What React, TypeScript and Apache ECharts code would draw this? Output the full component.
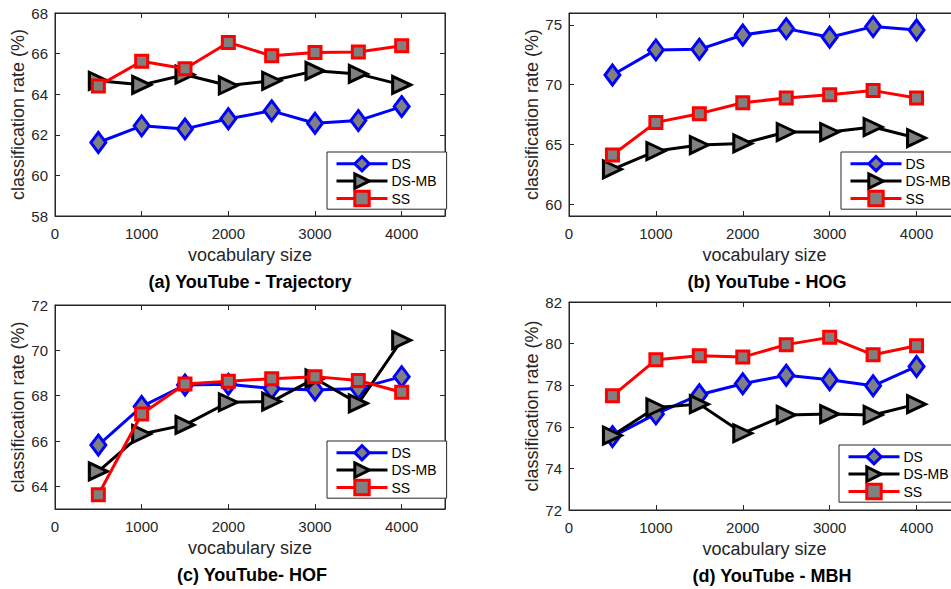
import React, { useEffect, useRef } from "react";
import * as echarts from "echarts";

const VOCAB = [500, 1000, 1500, 2000, 2500, 3000, 3500, 4000];
const X_TICKS = [0, 1000, 2000, 3000, 4000];

const TRAJ_DS = [61.62, 62.44, 62.29, 62.79, 63.18, 62.57, 62.7, 63.39];
const TRAJ_DSMB = [64.66, 64.46, 64.96, 64.43, 64.66, 65.15, 65.0, 64.46];
const TRAJ_SS = [64.41, 65.62, 65.25, 66.55, 65.89, 66.06, 66.08, 66.39];
const TRAJ_Y_TICKS = [58, 60, 62, 64, 66, 68];

const HOG_DS = [70.81, 72.91, 72.96, 74.16, 74.69, 73.97, 74.86, 74.58];
const HOG_DSMB = [62.91, 64.44, 64.94, 65.08, 66.03, 66.03, 66.45, 65.53];
const HOG_SS = [64.11, 66.84, 67.57, 68.49, 68.88, 69.16, 69.5, 68.88];
const HOG_Y_TICKS = [60, 65, 70, 75];

const HOF_DS = [65.82, 67.52, 68.47, 68.5, 68.32, 68.25, 68.32, 68.84];
const HOF_DSMB = [64.66, 66.31, 66.71, 67.71, 67.74, 68.76, 67.66, 70.45];
const HOF_SS = [63.63, 67.19, 68.51, 68.64, 68.75, 68.84, 68.67, 68.15];
const HOF_Y_TICKS = [64, 66, 68, 70, 72];

const MBH_DS = [75.53, 76.62, 77.54, 78.07, 78.48, 78.26, 77.97, 78.9];
const MBH_DSMB = [75.58, 76.93, 77.09, 75.69, 76.57, 76.61, 76.57, 77.09];
const MBH_SS = [77.49, 79.22, 79.42, 79.35, 79.95, 80.3, 79.46, 79.9];
const MBH_Y_TICKS = [72, 74, 76, 78, 80, 82];

const SERIES_NAMES = ["DS", "DS-MB", "SS"];
const TITLES = [
  "(a) YouTube - Trajectory",
  "(b) YouTube - HOG",
  "(c) YouTube- HOF",
  "(d) YouTube - MBH",
];

const FONT = "'Liberation Sans', Arial, Helvetica, sans-serif";
const AXIS_COLOR = "#262626";
const FILL = "#808080";

const panels = [
  {
    grid: { left: 55, top: 13, width: 390, height: 203 },
    yMin: 58, yMax: 68, yTicks: TRAJ_Y_TICKS,
    data: [TRAJ_DS, TRAJ_DSMB, TRAJ_SS],
    legend: { left: 327, top: 152 },
    title: { x: 250, y: 282 },
  },
  {
    grid: { left: 569, top: 13, width: 391, height: 203 },
    yMin: 59, yMax: 76, yTicks: HOG_Y_TICKS,
    data: [HOG_DS, HOG_DSMB, HOG_SS],
    legend: { left: 841, top: 152 },
    title: { x: 767, y: 282 },
  },
  {
    grid: { left: 55, top: 305, width: 390, height: 204 },
    yMin: 63, yMax: 72, yTicks: HOF_Y_TICKS,
    data: [HOF_DS, HOF_DSMB, HOF_SS],
    legend: { left: 327, top: 441 },
    title: { x: 252, y: 575 },
  },
  {
    grid: { left: 569, top: 302, width: 391, height: 208 },
    yMin: 72, yMax: 82, yTicks: MBH_Y_TICKS,
    data: [MBH_DS, MBH_DSMB, MBH_SS],
    legend: { left: 839, top: 445 },
    title: { x: 772, y: 576 },
  },
];

const seriesStyles = [
  { color: "#0000ff", symbol: "diamond", symbolSize: [15, 20], symbolRotate: 0 },
  { color: "#000000", symbol: "triangle", symbolSize: [17, 18], symbolRotate: -90 },
  { color: "#ff0000", symbol: "rect", symbolSize: [12, 12], symbolRotate: 0 },
];

function buildOption() {
  const grids: any[] = [];
  const xAxes: any[] = [];
  const yAxes: any[] = [];
  const series: any[] = [];
  const legends: any[] = [];
  const graphics: any[] = [];

  panels.forEach((p, i) => {
    grids.push({
      ...p.grid,
      show: true,
      borderColor: AXIS_COLOR,
      borderWidth: 1,
      backgroundColor: "#ffffff",
      containLabel: false,
    });
    const tickCommon = { inside: true, length: 5, lineStyle: { color: AXIS_COLOR, width: 1 } };
    xAxes.push({
      type: "value",
      gridIndex: i,
      position: "bottom",
      min: 0,
      max: 4500,
      name: "vocabulary size",
      nameLocation: "middle",
      nameGap: 30,
      nameTextStyle: { fontSize: 18, color: AXIS_COLOR, fontFamily: FONT },
      axisLine: { show: true, onZero: false, lineStyle: { color: AXIS_COLOR, width: 1 } },
      axisTick: { ...tickCommon, customValues: X_TICKS },
      axisLabel: {
        customValues: X_TICKS,
        formatter: (v: number) => String(v),
        fontSize: 15,
        color: AXIS_COLOR,
        fontFamily: FONT,
        margin: 10,
      },
      splitLine: { show: false },
    });
    xAxes.push({
      type: "value",
      gridIndex: i,
      position: "top",
      min: 0,
      max: 4500,
      axisLine: { show: true, onZero: false, lineStyle: { color: AXIS_COLOR, width: 1 } },
      axisTick: { ...tickCommon, customValues: X_TICKS },
      axisLabel: { show: false },
      splitLine: { show: false },
    });
    yAxes.push({
      type: "value",
      gridIndex: i,
      position: "left",
      min: p.yMin,
      max: p.yMax,
      name: "classification rate (%)",
      nameLocation: "middle",
      nameGap: 28,
      nameTextStyle: { fontSize: 18, color: AXIS_COLOR, fontFamily: FONT },
      axisLine: { show: true, onZero: false, lineStyle: { color: AXIS_COLOR, width: 1 } },
      axisTick: { ...tickCommon, customValues: p.yTicks },
      axisLabel: {
        customValues: p.yTicks,
        formatter: (v: number) => String(v),
        fontSize: 15,
        color: AXIS_COLOR,
        fontFamily: FONT,
        margin: 7,
      },
      splitLine: { show: false },
    });
    yAxes.push({
      type: "value",
      gridIndex: i,
      position: "right",
      min: p.yMin,
      max: p.yMax,
      axisLine: { show: true, onZero: false, lineStyle: { color: AXIS_COLOR, width: 1 } },
      axisTick: { ...tickCommon, customValues: p.yTicks },
      axisLabel: { show: false },
      splitLine: { show: false },
    });

    p.data.forEach((vals, k) => {
      const st = seriesStyles[k];
      series.push({
        type: "line",
        name: SERIES_NAMES[k],
        xAxisIndex: 2 * i,
        yAxisIndex: 2 * i,
        data: VOCAB.map((x, j) => [x, vals[j]]),
        symbol: st.symbol,
        symbolSize: st.symbolSize,
        symbolRotate: st.symbolRotate,
        showAllSymbol: true,
        lineStyle: { color: st.color, width: 3 },
        itemStyle: { color: FILL, borderColor: st.color, borderWidth: 3 },
        emphasis: { disabled: true },
        z: 2 + k,
      });
    });

    legends.push({
      orient: "vertical",
      left: p.legend.left,
      top: p.legend.top,
      data: SERIES_NAMES,
      itemWidth: 51,
      itemHeight: 18,
      itemGap: 0,
      padding: [3, 10, 2, 8],
      borderColor: AXIS_COLOR,
      borderWidth: 1,
      borderRadius: 0,
      backgroundColor: "#ffffff",
      lineStyle: { width: 3 },
      itemStyle: { borderWidth: 3 },
      textStyle: { fontSize: 14, color: "#000000", fontFamily: FONT, padding: [0, 0, 0, -1] },
      selectedMode: false,
      z: 10,
    });

    graphics.push({
      type: "text",
      x: p.title.x,
      y: p.title.y,
      style: {
        text: TITLES[i],
        fontSize: 18,
        fontWeight: "bold",
        fill: "#000000",
        fontFamily: FONT,
        align: "center",
        verticalAlign: "middle",
      },
    });
  });

  return {
    animation: false,
    backgroundColor: "#ffffff",
    grid: grids,
    xAxis: xAxes,
    yAxis: yAxes,
    series,
    legend: legends,
    graphic: graphics,
  };
}

export default function App() {
  const ref = useRef<HTMLDivElement | null>(null);
  useEffect(() => {
    if (!ref.current) return;
    const chart = echarts.init(ref.current, undefined, { renderer: "svg" });
    chart.setOption(buildOption() as any);
    return () => chart.dispose();
  }, []);
  return (
    <div
      style={{
        position: "fixed",
        left: 0,
        top: 0,
        width: 951,
        height: 589,
        overflow: "hidden",
        background: "#fff",
      }}
    >
      <div ref={ref} style={{ width: 975, height: 589 }} />
    </div>
  );
}
